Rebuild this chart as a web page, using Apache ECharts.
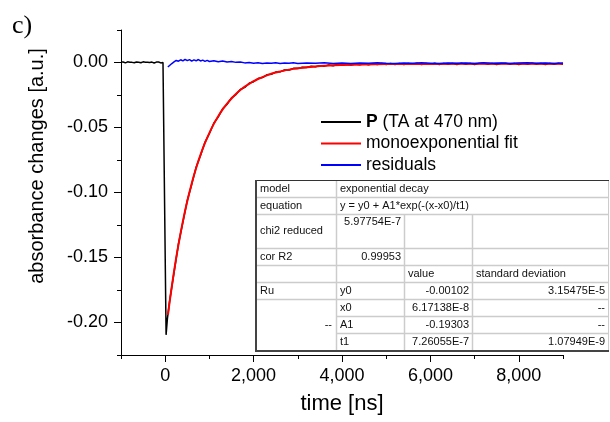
<!DOCTYPE html>
<html>
<head>
<meta charset="utf-8">
<script src="https://cdn.jsdelivr.net/npm/echarts@6/dist/echarts.min.js"></script>
<style>html,body{margin:0;padding:0;background:#fff}#c{width:610px;height:422px}</style>
</head>
<body>
<div id="c"></div>
<script>
// ---------- data ----------
const pTime = [-1000,-975,-950,-925,-900,-875,-850,-825,-800,-775,-750,-725,-700,-675,-650,-625,-600,-575,-550,-525,
  -500,-475,-450,-425,-400,-375,-350,-325,-300,-275,-250,-225,-200,-175,-150,-125,-100,-75,-50,-25,
  -10,20,50,
  100,200,300,400,500,600,700,800,900,1000,1100,1200,1300,1400,1500,1600,1700,1800,1900,2000,
  2100,2200,2300,2400,2500,2600,2700,2800,2900,3000,3100,3200,3300,3400,3500,3600,3700,3800,3900,4000,
  4100,4200,4300,4400,4500,4600,4700,4800,4900,5000,5100,5200,5300,5400,5500,5600,5700,5800,5900,6000,
  6100,6200,6300,6400,6500,6600,6700,6800,6900,7000,7100,7200,7300,7400,7500,7600,7700,7800,7900,8000,
  8100,8200,8300,8400,8500,8600,8700,8800,8900,9000];
const pSignal = [0.0003,-0.0002,0.0004,0.0001,-0.0003,0.0002,0.0005,-0.0001,0.0002,-0.0004,0.0001,0.0003,-0.0002,0.0000,0.0004,-0.0003,0.0002,0.0001,-0.0002,0.0003,
  0.0005,-0.0001,0.0002,-0.0003,0.0001,0.0004,0.0000,-0.0002,0.0003,0.0001,-0.0004,0.0002,0.0003,-0.0001,0.0004,0.0001,-0.0003,0.0002,0.0000,0.0003,
  0.0001,-0.2095,-0.1970,
  -0.1836,-0.1614,-0.1396,-0.1228,-0.1061,-0.0936,-0.0806,-0.0714,-0.0614,-0.0546,-0.0467,-0.0418,-0.0356,-0.0321,-0.0272,-0.0247,-0.0208,-0.0191,-0.0160,-0.0148,
  -0.0123,-0.0116,-0.0095,-0.0091,-0.0074,-0.0072,-0.0058,-0.0058,-0.0045,-0.0047,-0.0037,-0.0039,-0.0029,-0.0033,-0.0024,-0.0028,-0.0019,-0.0025,-0.0016,-0.0022,
  -0.0013,-0.0020,-0.0012,-0.0018,-0.0010,-0.0018,-0.0009,-0.0016,-0.0008,-0.0016,-0.0007,-0.0015,-0.0008,-0.0016,-0.0007,-0.0014,-0.0006,-0.0015,-0.0008,-0.0014,
  -0.0006,-0.0015,-0.0007,-0.0014,-0.0008,-0.0015,-0.0006,-0.0013,-0.0007,-0.0015,-0.0008,-0.0006,-0.0014,-0.0007,-0.0015,-0.0008,-0.0006,-0.0014,-0.0008,-0.0015,
  -0.0007,-0.0013,-0.0006,-0.0014,-0.0008,-0.0015,-0.0007,-0.0013,-0.0006,-0.0013];

const fitTime = [62,100,200,300,400,500,600,700,800,900,1000,1100,1200,1300,1400,1500,1600,1700,1800,1900,2000,
  2100,2200,2300,2400,2500,2600,2700,2800,2900,3000,3200,3400,3600,3800,4000,4500,5000,5500,6000,7000,8000,9000];
const fitValue = [-0.1941,-0.1842,-0.1606,-0.1401,-0.1222,-0.1066,-0.0930,-0.0812,-0.0709,-0.0619,-0.0541,-0.0472,-0.0413,-0.0361,-0.0316,-0.0277,-0.0242,-0.0212,-0.0186,-0.0164,-0.0144,
  -0.0127,-0.0112,-0.0099,-0.0087,-0.0077,-0.0069,-0.0061,-0.0055,-0.0049,-0.0044,-0.0036,-0.0030,-0.0025,-0.0021,-0.0019,-0.0015,-0.0012,-0.0011,-0.0011,-0.0010,-0.0010,-0.0010];

const resTime = [60,100,150,200,250,300,350,400,450,500,550,600,650,700,750,800,850,900,950,1000,
  1100,1200,1300,1400,1500,1600,1700,1800,1900,2000,2100,2200,2300,2400,2500,2600,2700,2800,2900,3000,
  3200,3400,3600,3800,4000,4200,4400,4600,4800,5000,5200,5400,5600,5800,6000,6200,6400,6600,6800,7000,
  7200,7400,7600,7800,8000,8200,8400,8600,8800,9000];
const resValue = [-0.0035,-0.0022,-0.0008,0.0004,0.0016,0.0010,0.0021,0.0012,0.0024,0.0014,0.0022,0.0011,0.0020,0.0013,0.0023,0.0012,0.0018,0.0009,0.0016,0.0008,
  0.0014,0.0006,0.0011,0.0004,0.0008,0.0001,0.0004,-0.0003,0.0000,-0.0005,-0.0002,-0.0007,-0.0003,-0.0006,-0.0002,-0.0008,-0.0004,-0.0006,-0.0002,-0.0007,
  -0.0003,-0.0006,-0.0002,-0.0007,-0.0004,-0.0008,-0.0003,-0.0006,-0.0002,-0.0005,-0.0007,-0.0003,-0.0006,-0.0002,-0.0005,-0.0008,-0.0003,-0.0006,-0.0004,-0.0007,
  -0.0002,-0.0006,-0.0003,-0.0007,-0.0004,-0.0002,-0.0006,-0.0003,-0.0007,-0.0004];

const seriesNames = ['P', 'monoexponential fit', 'residuals'];
const xMajorTicks = [0, 2000, 4000, 6000, 8000];
const xMinorTicks = [-1000, 1000, 3000, 5000, 7000, 9000];
const yMajorTicks = [-0.2, -0.15, -0.1, -0.05, 0];
const yMinorTicks = [-0.225, -0.175, -0.125, -0.075, -0.025, 0.025];

const tableCells = [
  ['model', 'exponential decay'],
  ['equation', 'y = y0 + A1*exp(-(x-x0)/t1)'],
  ['chi2 reduced', '5.97754E-7'],
  ['cor R2', '0.99953'],
  ['', '', 'value', 'standard deviation'],
  ['Ru', 'y0', '-0.00102', '3.15475E-5'],
  ['', 'x0', '6.17138E-8', '--'],
  ['--', 'A1', '-0.19303', '--'],
  ['', 't1', '7.26055E-7', '1.07949E-9']
];

// ---------- chart ----------
const FONT = 'Liberation Sans, Arial, sans-serif';
const chart = echarts.init(document.getElementById('c'), null, {renderer: 'canvas'});

const zip = (a, b) => a.map((v, i) => [v, b[i]]);

// table graphic
const colX = [255, 336, 404, 472, 609];
const rowY = [180, 197, 214, 248, 265, 282, 299, 316, 333, 350];
const g = [];
const lineGray = '#cccccc';
g.push({type: 'rect', shape: {x: colX[0], y: rowY[0], width: colX[4] - colX[0], height: rowY[9] - rowY[0]}, style: {fill: '#fff'}, z: 10});
function hl(y, x1, x2, color, w) { g.push({type: 'line', shape: {x1: x1, y1: y, x2: x2, y2: y}, style: {stroke: color, lineWidth: w}, z: 11}); }
function vl(x, y1, y2, color, w) { g.push({type: 'line', shape: {x1: x, y1: y1, x2: x, y2: y2}, style: {stroke: color, lineWidth: w}, z: 11}); }
[197, 214, 248, 265, 282, 299].forEach(y => hl(y + 0.5, colX[0], colX[4], lineGray, 1.5));
[316, 333].forEach(y => hl(y + 0.5, colX[1], colX[4], lineGray, 1.5));
vl(colX[1] + 0.5, rowY[0], rowY[9], lineGray, 1.5);
vl(colX[2] + 0.5, rowY[2], rowY[9], lineGray, 1.5);
vl(colX[3] + 0.5, rowY[2], rowY[9], lineGray, 1.5);
vl(colX[4] - 0.5, rowY[0], rowY[9], lineGray, 1);
hl(rowY[0] + 0.5, colX[0], colX[4], '#333', 1);
vl(colX[0] + 1, rowY[0], rowY[9] + 1, '#444', 2);
hl(rowY[9] + 1, colX[0], colX[4], '#444', 2);

function txt(s, x, y, align, vAlign) {
  if (!s) return;
  g.push({type: 'text', x: x, y: y, z: 12, style: {text: s, font: '11px ' + FONT, fill: '#111', textAlign: align, textVerticalAlign: vAlign || 'middle'}});
}
tableCells.forEach((row, r) => {
  const yc = (rowY[r] + rowY[r + 1]) / 2;
  if (r === 7) txt(row[0], colX[1] - 4, (rowY[6] + rowY[9]) / 2, 'right');
  else txt(row[0], colX[0] + 5, yc, 'left');
  if (r <= 1) { txt(row[1], colX[1] + 4, yc, 'left'); return; }
  if (r === 2) { txt(row[1], colX[2] - 3, rowY[2] + 8, 'right'); return; }
  if (r === 3) { txt(row[1], colX[2] - 3, yc, 'right'); return; }
  if (r === 4) { txt(row[2], colX[2] + 4, yc, 'left'); txt(row[3], colX[3] + 4, yc, 'left'); return; }
  txt(row[1], colX[1] + 4, yc, 'left');
  txt(row[2], colX[3] - 3, yc, 'right');
  txt(row[3], colX[4] - 4, yc, 'right');
});
// panel label and y-axis title
g.push({type: 'text', left: 12, top: 13, style: {text: 'c)', font: '26px Liberation Serif, Times New Roman, serif', fill: '#000'}});
g.push({type: 'text', x: 37, y: 166, rotation: Math.PI / 2, style: {text: 'absorbance changes [a.u.]', font: '20px ' + FONT, fill: '#000', textAlign: 'center', textVerticalAlign: 'middle'}});

const axisCommon = {
  type: 'value',
  splitLine: {show: false},
  axisLine: {show: true, onZero: false, lineStyle: {color: '#000', width: 1}},
};

const option = {
  animation: false,
  backgroundColor: '#fff',
  grid: {left: 121, right: 47, top: 30, bottom: 67},
  legend: {
    orient: 'vertical', left: 316, top: 107, itemWidth: 40, itemHeight: 2, itemGap: 1.5, icon: 'rect',
    data: seriesNames,
    formatter: n => n === 'P' ? '{b|P} (TA at 470 nm)' : n,
    textStyle: {fontFamily: FONT, fontSize: 17.5, color: '#000', lineHeight: 20, rich: {b: {fontFamily: FONT, fontSize: 17.5, fontWeight: 'bold', lineHeight: 20}}}
  },
  xAxis: [
    Object.assign({}, axisCommon, {
      min: -1000, max: 9000, position: 'bottom', offset: 0,
      name: 'time [ns]', nameLocation: 'middle', nameGap: 38,
      nameTextStyle: {fontFamily: FONT, fontSize: 22, color: '#000'},
      axisTick: {show: true, length: 7, customValues: xMajorTicks, lineStyle: {color: '#000'}},
      axisLabel: {show: true, margin: 12, customValues: xMajorTicks, fontFamily: FONT, fontSize: 18, color: '#000',
        formatter: v => v === 0 ? '0' : String(v).replace(/\B(?=(\d{3})+(?!\d))/g, ',')}
    }),
    {
      type: 'value', min: -1000, max: 9000, position: 'bottom', offset: 0,
      splitLine: {show: false}, axisLine: {show: false, onZero: false},
      axisLabel: {show: false},
      axisTick: {show: true, length: 4, customValues: xMinorTicks, lineStyle: {color: '#000'}}
    }
  ],
  yAxis: [
    Object.assign({}, axisCommon, {
      min: -0.225, max: 0.025, position: 'left', offset: 0,
      axisTick: {show: true, length: 7, customValues: yMajorTicks, lineStyle: {color: '#000'}},
      axisLabel: {show: true, margin: 13, customValues: yMajorTicks, fontFamily: FONT, fontSize: 18, color: '#000',
        formatter: v => (Math.abs(v) < 1e-9 ? 0 : v).toFixed(2)}
    }),
    {
      type: 'value', min: -0.225, max: 0.025, position: 'left', offset: 0,
      splitLine: {show: false}, axisLine: {show: false, onZero: false},
      axisLabel: {show: false},
      axisTick: {show: true, length: 4, customValues: yMinorTicks, lineStyle: {color: '#000'}}
    }
  ],
  series: [
    {name: seriesNames[0], type: 'line', data: zip(pTime, pSignal), symbol: 'none', lineStyle: {color: '#000', width: 1.5}, itemStyle: {color: '#000'}, z: 2},
    {name: seriesNames[1], type: 'line', data: zip(fitTime, fitValue), symbol: 'none', smooth: 0.3, lineStyle: {color: '#ff0000', width: 2}, itemStyle: {color: '#ff0000'}, z: 3},
    {name: seriesNames[2], type: 'line', data: zip(resTime, resValue), symbol: 'none', lineStyle: {color: '#0000ff', width: 1.5}, itemStyle: {color: '#0000ff'}, z: 4}
  ],
  graphic: g
};
chart.setOption(option);
</script>
</body>
</html>
